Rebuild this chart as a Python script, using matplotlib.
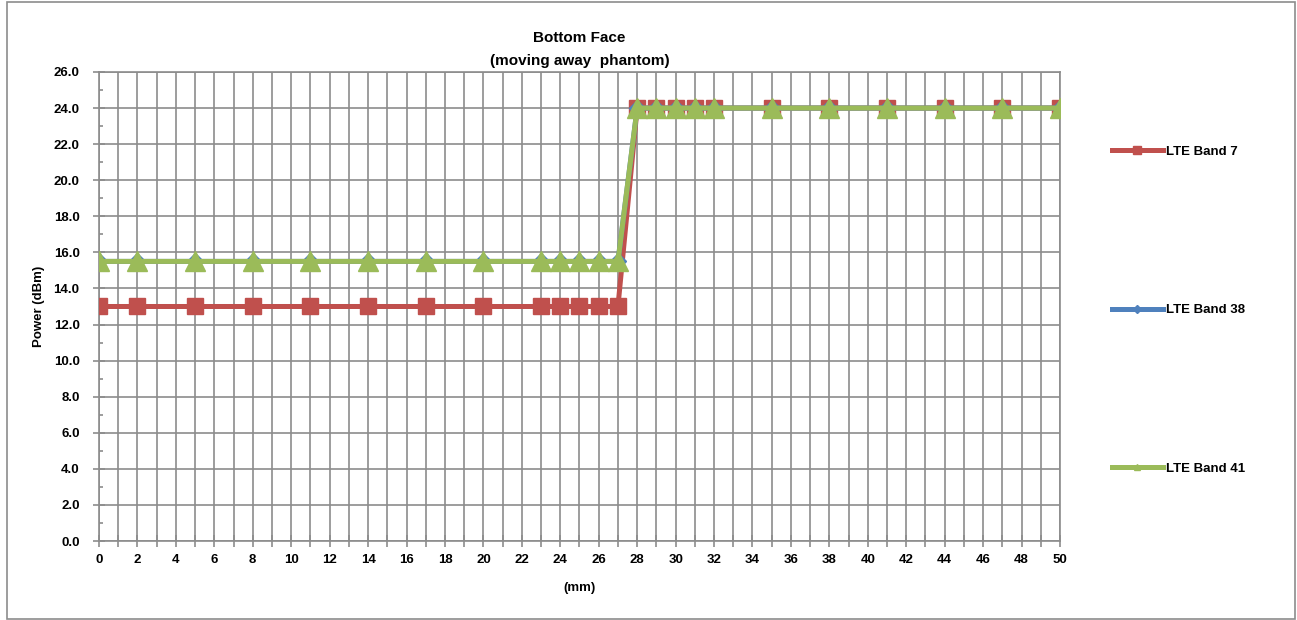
import matplotlib
matplotlib.use("Agg")
import matplotlib.pyplot as plt
from matplotlib.lines import Line2D
from matplotlib.patches import Rectangle
from matplotlib.ticker import MultipleLocator

plt.rcParams['font.family'] = ['Liberation Sans', 'DejaVu Sans']
plt.rcParams['font.weight'] = 'bold'

# distance from phantom, mm
distance = [0, 2, 5, 8, 11, 14, 17, 20, 23, 24, 25, 26, 27,
            28, 29, 30, 31, 32, 35, 38, 41, 44, 47, 50]

# conducted power, dBm
band7 = [13.0] * 13 + [24.0] * 11
band38 = [15.5] * 13 + [24.0] * 11
band41 = [15.5] * 13 + [24.0] * 11

labels = ['LTE Band 7', 'LTE Band 38', 'LTE Band 41']
colors = ['#C0504D', '#4F81BD', '#9BBB59']

fig = plt.figure(figsize=(12.97, 6.2), dpi=100)
fig.patches.append(Rectangle((0.0055, 0.002), 0.993, 0.995, transform=fig.transFigure,
                             fill=False, edgecolor='#8c8c8c', linewidth=1.2))

ax = fig.add_axes([0.0763, 0.1274, 0.741, 0.7565])

ax.plot(distance, band7, color=colors[0], lw=3.6, marker='s', ms=11, zorder=3)
ax.plot(distance, band38, color=colors[1], lw=3.6, marker='D', ms=8, zorder=4)
ax.plot(distance, band41, color=colors[2], lw=3.6, marker='^', ms=15, zorder=5)

ax.set_xlim(0, 50)
ax.set_ylim(0, 26)
ax.xaxis.set_major_locator(MultipleLocator(2))
ax.xaxis.set_minor_locator(MultipleLocator(1))
ax.yaxis.set_major_locator(MultipleLocator(2))
ax.yaxis.set_minor_locator(MultipleLocator(1))
ax.set_yticks(range(0, 27, 2))
ax.set_yticklabels([f'{v:.1f}' for v in range(0, 27, 2)])

ax.grid(which='major', axis='y', color='#8c8c8c', lw=1.2)
ax.grid(which='both', axis='x', color='#8c8c8c', lw=1.2)
ax.set_axisbelow(True)
for s in ax.spines.values():
    s.set_color('#8c8c8c')
    s.set_linewidth(1.2)

ax.tick_params(axis='both', which='major', labelsize=9.5, color='#8c8c8c',
               direction='inout', length=8, width=1.2)
ax.tick_params(axis='x', which='minor', color='#8c8c8c', direction='inout',
               length=8, width=1.2)
ax.tick_params(axis='y', which='minor', color='#8c8c8c', direction='in',
               length=3, width=1.2)
ax.tick_params(axis='x', which='major', pad=5)
ax.tick_params(axis='y', which='major', pad=10)

ax.set_title('Bottom Face\n(moving away  phantom)', fontsize=11,
             fontweight='bold', pad=5, linespacing=1.8)
ax.set_xlabel('(mm)', fontsize=9.5, fontweight='bold', labelpad=12)
ax.set_ylabel('Power (dBm)', fontsize=9.5, fontweight='bold', labelpad=6)

handles = [Line2D([], [], color=colors[0], lw=3.6, marker='s', ms=6),
           Line2D([], [], color=colors[1], lw=3.6, marker='D', ms=4),
           Line2D([], [], color=colors[2], lw=3.6, marker='^', ms=5)]
fig.legend(handles, labels, loc='upper left', bbox_to_anchor=(0.852, 0.776),
           frameon=False, fontsize=9.5, handlelength=3.9, labelspacing=11.1,
           handletextpad=0.2, borderpad=0)

fig.savefig('out.png', dpi=100)
